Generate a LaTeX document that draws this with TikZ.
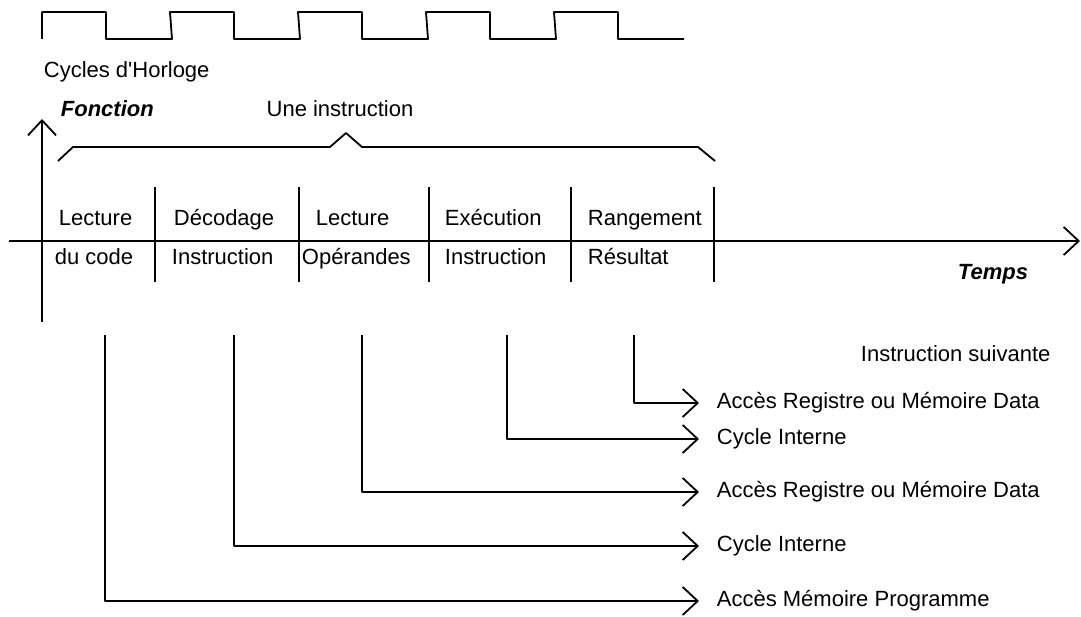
\documentclass[tikz,border=0pt]{standalone}
\usepackage{fontspec}
\setmainfont{Liberation Sans}
\usetikzlibrary{arrows.meta}

\begin{document}
\begin{tikzpicture}[x=1pt,y=-1pt,line width=1.8pt,line join=round,
	fleche/.style={-{Straight Barb[length=15pt,width=28pt,line width=1.8pt]}},
	txt/.style={font=\fontsize{22}{25}\selectfont,inner sep=0pt,anchor=west,text height=1em,text depth=0pt},
	titre/.style={txt,font=\fontsize{22}{25}\selectfont\bfseries\itshape}]
						\useasboundingbox (0,0) rectangle (1081,617);
						%\draw[gray,thin] (0,0) grid[step=50] (1081,617);
						% horloge
						\draw (42,39) \foreach \x in {42,170,298,426,554} { -- (\x,12) -- (\x+64,12) -- (\x+64,39) -- (\x+130,39) };
						\node[txt] (horloge) at (43,73) {Cycles d\textquotesingle Horloge};
						\node[titre] (fonction) at (60,112) {Fonction};
						\node[txt,anchor=center] (uneinstr) at (340,112) {Une instruction};
						% axes
						\coordinate (ybas) at (42,322);
						\coordinate (yhaut) at (42,119);
						\coordinate (xgauche) at (9,241);
						\coordinate (xdroite) at (1080,241);
						\draw[fleche] (ybas) -- (yhaut);
						\draw[fleche] (xgauche) -- (xdroite);
						\node[titre,anchor=center] (temps) at (993,275) {Temps};
						% accolade
						\draw (58,161) -- (73,147) -- (330,147) -- (346,133) -- (362,147) -- (698,147) -- (715,161);
						\foreach \x in {155,299,429,571,714} \draw (\x,187) -- (\x,282);
						% phases
						\node[txt] (lec1) at (58,221) {Lecture};
						\node[txt] (code) at (54,260) {du code};
						\node[txt] (deco) at (173,221) {Décodage};
						\node[txt] (instr1) at (171,260) {Instruction};
						\node[txt] (lec2) at (315,221) {Lecture};
						\node[txt] (oper) at (301,260) {Opérandes};
						\node[txt] (exec) at (444,221) {Exécution};
						\node[txt] (instr2) at (444,260) {Instruction};
						\node[txt] (rang) at (587,221) {Rangement};
						\node[txt] (resu) at (587,260) {Résultat};
						% acces
						\node[txt] (suiv) at (860,357) {Instruction suivante};
						\node[txt] (acc5) at (716,403) {Accès Registre ou Mémoire Data};
						\node[txt] (acc4) at (716,439) {Cycle Interne};
						\node[txt] (acc3) at (716,492) {Accès Registre ou Mémoire Data};
						\node[txt] (acc2) at (716,546) {Cycle Interne};
						\node[txt] (acc1) at (716,601) {Accès Mémoire Programme};
						\coordinate (d1) at (105,335);
						\coordinate (d2) at (234,335);
						\coordinate (d3) at (362,335);
						\coordinate (d4) at (507,335);
						\coordinate (d5) at (634,335);
						\foreach \i in {1,...,5}
							\draw[fleche] (d\i) |- ([xshift=-17pt]acc\i.west);
\end{tikzpicture}
\end{document}
